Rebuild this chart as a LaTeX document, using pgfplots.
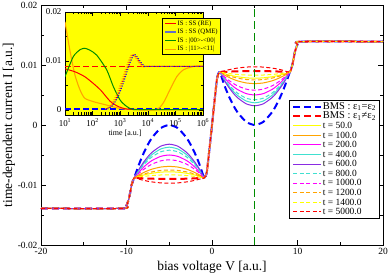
\documentclass[border=0pt]{standalone}
\usepackage{pgfplots}
\pgfplotsset{compat=1.18}
\usepackage{pgfplotstable}
\usepackage{fontspec}
\setmainfont{Liberation Serif}
\usetikzlibrary{calc}
\definecolor{cOrange}{RGB}{255,165,0}
\definecolor{cYellow}{RGB}{255,255,0}
\definecolor{cMag}{RGB}{255,0,255}
\definecolor{cCyan}{RGB}{64,224,208}
\definecolor{cPurple}{RGB}{138,43,226}
\definecolor{cGreen}{RGB}{0,140,0}
\definecolor{cBG}{RGB}{255,255,0}
\definecolor{cQME}{RGB}{100,110,200}
\definecolor{cIO}{RGB}{255,165,0}

\pgfplotstableread{
V bA bB t50 t100 t200 t400 t600 t800 t1000 t1200 t1400 t5000
-20 -0.0139 -0.0139 -0.0139 -0.0139 -0.0139 -0.0139 -0.0139 -0.0139 -0.0139 -0.0139 -0.0139 -0.0139
-10.4 -0.0139 -0.0139 -0.0139 -0.0139 -0.0139 -0.0139 -0.0139 -0.0139 -0.0139 -0.0139 -0.0139 -0.0139
-10.0 -0.0134 -0.0134 -0.0134 -0.0134 -0.0134 -0.0134 -0.0134 -0.0134 -0.0134 -0.0134 -0.0134 -0.0134
-9.7 -0.0122 -0.0122 -0.0122 -0.0122 -0.0122 -0.0122 -0.0122 -0.0122 -0.0122 -0.0122 -0.0122 -0.0122
-9.4 -0.0100 -0.0100 -0.0100 -0.0100 -0.0100 -0.0100 -0.0100 -0.0100 -0.0100 -0.0100 -0.0100 -0.0100
-9.1 -0.0088 -0.0088 -0.0088 -0.0088 -0.0088 -0.0088 -0.0088 -0.0088 -0.0088 -0.0088 -0.0088 -0.0088
-8.5 -0.00642 -0.00885 -0.00853 -0.00829 -0.00777 -0.00742 -0.00728 -0.00755 -0.00799 -0.00845 -0.00866 -0.00904
-8.0 -0.00471 -0.00889 -0.00834 -0.00792 -0.00703 -0.00643 -0.00620 -0.00666 -0.00741 -0.00820 -0.00857 -0.00922
-7.5 -0.00327 -0.00893 -0.00817 -0.00761 -0.00641 -0.00560 -0.00528 -0.00591 -0.00692 -0.00798 -0.00849 -0.00937
-7.0 -0.00209 -0.00895 -0.00804 -0.00735 -0.00590 -0.00491 -0.00453 -0.00529 -0.00651 -0.00781 -0.00842 -0.00949
-6.0 -0.00052 -0.00899 -0.00786 -0.00701 -0.00523 -0.00400 -0.00353 -0.00447 -0.00598 -0.00758 -0.00833 -0.00965
-5.0 0.00000 -0.00900 -0.00780 -0.00690 -0.00500 -0.00370 -0.00320 -0.00420 -0.00580 -0.00750 -0.00830 -0.00970
-4.0 -0.00052 -0.00899 -0.00786 -0.00701 -0.00523 -0.00400 -0.00353 -0.00447 -0.00598 -0.00758 -0.00833 -0.00965
-3.0 -0.00209 -0.00895 -0.00804 -0.00735 -0.00590 -0.00491 -0.00453 -0.00529 -0.00651 -0.00781 -0.00842 -0.00949
-2.5 -0.00327 -0.00893 -0.00817 -0.00761 -0.00641 -0.00560 -0.00528 -0.00591 -0.00692 -0.00798 -0.00849 -0.00937
-2.0 -0.00471 -0.00889 -0.00834 -0.00792 -0.00703 -0.00643 -0.00620 -0.00666 -0.00741 -0.00820 -0.00857 -0.00922
-1.5 -0.00642 -0.00885 -0.00853 -0.00829 -0.00777 -0.00742 -0.00728 -0.00755 -0.00799 -0.00845 -0.00866 -0.00904
-0.9 -0.0088 -0.0088 -0.0088 -0.0088 -0.0088 -0.0088 -0.0088 -0.0088 -0.0088 -0.0088 -0.0088 -0.0088
-0.6 -0.0078 -0.0078 -0.0078 -0.0078 -0.0078 -0.0078 -0.0078 -0.0078 -0.0078 -0.0078 -0.0078 -0.0078
-0.3 -0.0040 -0.0040 -0.0040 -0.0040 -0.0040 -0.0040 -0.0040 -0.0040 -0.0040 -0.0040 -0.0040 -0.0040
0.0 0 0 0 0 0 0 0 0 0 0 0 0
0.3 0.0040 0.0040 0.0040 0.0040 0.0040 0.0040 0.0040 0.0040 0.0040 0.0040 0.0040 0.0040
0.6 0.0078 0.0078 0.0078 0.0078 0.0078 0.0078 0.0078 0.0078 0.0078 0.0078 0.0078 0.0078
0.9 0.0088 0.0088 0.0088 0.0088 0.0088 0.0088 0.0088 0.0088 0.0088 0.0088 0.0088 0.0088
1.5 0.00642 0.00885 0.00853 0.00829 0.00777 0.00742 0.00728 0.00755 0.00799 0.00845 0.00866 0.00904
2.0 0.00471 0.00889 0.00834 0.00792 0.00703 0.00643 0.00620 0.00666 0.00741 0.00820 0.00857 0.00922
2.5 0.00327 0.00893 0.00817 0.00761 0.00641 0.00560 0.00528 0.00591 0.00692 0.00798 0.00849 0.00937
3.0 0.00209 0.00895 0.00804 0.00735 0.00590 0.00491 0.00453 0.00529 0.00651 0.00781 0.00842 0.00949
4.0 0.00052 0.00899 0.00786 0.00701 0.00523 0.00400 0.00353 0.00447 0.00598 0.00758 0.00833 0.00965
5.0 0.00000 0.00900 0.00780 0.00690 0.00500 0.00370 0.00320 0.00420 0.00580 0.00750 0.00830 0.00970
6.0 0.00052 0.00899 0.00786 0.00701 0.00523 0.00400 0.00353 0.00447 0.00598 0.00758 0.00833 0.00965
7.0 0.00209 0.00895 0.00804 0.00735 0.00590 0.00491 0.00453 0.00529 0.00651 0.00781 0.00842 0.00949
7.5 0.00327 0.00893 0.00817 0.00761 0.00641 0.00560 0.00528 0.00591 0.00692 0.00798 0.00849 0.00937
8.0 0.00471 0.00889 0.00834 0.00792 0.00703 0.00643 0.00620 0.00666 0.00741 0.00820 0.00857 0.00922
8.5 0.00642 0.00885 0.00853 0.00829 0.00777 0.00742 0.00728 0.00755 0.00799 0.00845 0.00866 0.00904
9.1 0.0088 0.0088 0.0088 0.0088 0.0088 0.0088 0.0088 0.0088 0.0088 0.0088 0.0088 0.0088
9.4 0.0100 0.0100 0.0100 0.0100 0.0100 0.0100 0.0100 0.0100 0.0100 0.0100 0.0100 0.0100
9.7 0.0122 0.0122 0.0122 0.0122 0.0122 0.0122 0.0122 0.0122 0.0122 0.0122 0.0122 0.0122
10.0 0.0134 0.0134 0.0134 0.0134 0.0134 0.0134 0.0134 0.0134 0.0134 0.0134 0.0134 0.0134
10.4 0.0139 0.0139 0.0139 0.0139 0.0139 0.0139 0.0139 0.0139 0.0139 0.0139 0.0139 0.0139
20 0.0139 0.0139 0.0139 0.0139 0.0139 0.0139 0.0139 0.0139 0.0139 0.0139 0.0139 0.0139
}\curr

\newcommand{\LS}{\rule[-2.2pt]{0pt}{9.2pt}}
\newcommand{\LSB}{\rule[-8.6pt]{0pt}{15.6pt}}

\begin{document}
\begin{tikzpicture}
\begin{axis}[name=main, scale only axis, width=342bp, height=240bp,
  xmin=-20, xmax=20, ymin=-0.02, ymax=0.02,
  scaled x ticks=false, scaled y ticks=false,
  xtick={-20,-10,0,10,20}, xticklabels={-20,-10,0,10,20},
  ytick={-0.02,-0.01,0,0.01,0.02}, yticklabels={-0.02,-0.01,0,0.01,0.02},
  minor xtick={-15,-5,5,15}, minor ytick={-0.015,-0.005,0.005,0.015},
  tick align=inside, major tick length=5bp, minor tick length=3bp,
  axis line style={line width=0.9bp}, tick style={line width=0.7bp, black},
  ticklabel style={font=\fontsize{9.5}{11}\selectfont},
  xlabel={bias voltage V [a.u.]}, ylabel={time-dependent current I [a.u.]},
  label style={font=\fontsize{13.5}{15}\selectfont},
  xlabel style={yshift=1bp},
  ylabel shift=-4bp,
  legend style={at={(0.991,0.604)}, anchor=north east, draw=black, line width=0.6bp,
    font=\fontsize{9.5}{10}\selectfont, nodes={inner sep=0.55pt}, row sep=0pt,
    inner xsep=3bp, inner ysep=1.5bp},
  legend cell align=left,
  legend image code/.code={\draw[#1] (0bp,0bp) -- (28bp,0bp);},
  every axis plot/.append style={line width=1bp},
  clip=true,
]
\addplot[blue, line width=2bp, dash pattern=on 7bp off 4bp, smooth, tension=0.4] table[x=V,y=bA]{\curr};
\addlegendentry{\LS{\fontsize{10.5}{11}\selectfont BMS : ε\textsubscript{1}=ε\textsubscript{2}}}
\addplot[red, line width=2bp, dash pattern=on 7bp off 4bp, smooth, tension=0.4] table[x=V,y=bB]{\curr};
\addlegendentry{\LSB{\fontsize{10.5}{11}\selectfont BMS : ε\textsubscript{1}≠ε\textsubscript{2}}}
\addplot[cYellow, smooth, tension=0.4] table[x=V,y=t50]{\curr};
\addlegendentry{\LS t = 50.0}
\addplot[cOrange, smooth, tension=0.4] table[x=V,y=t100]{\curr};
\addlegendentry{\LS t = 100.0}
\addplot[cMag, smooth, tension=0.4] table[x=V,y=t200]{\curr};
\addlegendentry{\LS t = 200.0}
\addplot[cCyan, smooth, tension=0.4] table[x=V,y=t400]{\curr};
\addlegendentry{\LS t = 400.0}
\addplot[cPurple, smooth, tension=0.4] table[x=V,y=t600]{\curr};
\addlegendentry{\LS t = 600.0}
\addplot[cCyan, dash pattern=on 4bp off 2.5bp, smooth, tension=0.4] table[x=V,y=t800]{\curr};
\addlegendentry{\LS t = 800.0}
\addplot[cMag, dash pattern=on 4bp off 2.5bp, smooth, tension=0.4] table[x=V,y=t1000]{\curr};
\addlegendentry{\LS t = 1000.0}
\addplot[cOrange, dash pattern=on 4bp off 2.5bp, smooth, tension=0.4] table[x=V,y=t1200]{\curr};
\addlegendentry{\LS t = 1200.0}
\addplot[cYellow, dash pattern=on 4bp off 2.5bp, smooth, tension=0.4] table[x=V,y=t1400]{\curr};
\addlegendentry{\LS t = 1400.0}
\addplot[red, dash pattern=on 4bp off 2.5bp, smooth, tension=0.4] table[x=V,y=t5000]{\curr};
\addlegendentry{\LS t = 5000.0}
\addplot[cGreen, line width=1.4bp, dash pattern=on 8bp off 4bp, forget plot] coordinates {(5,-0.02) (5,0.02)};
\end{axis}

\begin{axis}[at={($(main.north west)+(24bp,-7bp)$)}, anchor=north west,
  scale only axis, width=138bp, height=103bp,
  xmode=log, xmin=10, xmax=1000000, ymin=-0.00102, ymax=0.02,
  scaled y ticks=false,
  axis background/.style={fill=cBG},
  xtick={10,100,1000,10000,100000,1000000},
  xticklabels={10\textsuperscript{1},10\textsuperscript{2},10\textsuperscript{3},10\textsuperscript{4},10\textsuperscript{5},10\textsuperscript{6}},
  ytick={0,0.01,0.02}, yticklabels={0,0.01,0.02}, minor ytick={0.005,0.015},
  tick align=inside, major tick length=4bp, minor tick length=2.5bp,
  axis line style={line width=0.8bp}, tick style={line width=0.6bp, black},
  ticklabel style={font=\fontsize{9}{10}\selectfont},
  xlabel={time [a.u.]}, xlabel style={font=\fontsize{8}{9}\selectfont, yshift=3bp, xshift=-9bp},
  legend style={at={(0.703,0.942)}, anchor=north west, draw=black, fill=cBG, line width=0.6bp,
    font=\fontsize{6.8}{7}\selectfont, nodes={inner sep=0.8pt, text height=5.2pt, text depth=1.8pt},
    inner xsep=2bp, inner ysep=1bp},
  legend cell align=left,
  legend image code/.code={\draw[#1] (0bp,0bp) -- (11bp,0bp);},
]
\addlegendimage{red, line width=1bp}
\addlegendentry{IS : SS (RE)}
\addlegendimage{cQME, line width=1.5bp}
\addlegendentry{IS : SS (QME)}
\addlegendimage{cGreen, line width=1bp}
\addlegendentry{IS : |00>-<00|}
\addlegendimage{cIO, line width=1bp}
\addlegendentry{IS : |11>-<11|}

\addplot[red, line width=1.5bp, dash pattern=on 6bp off 3bp, forget plot] coordinates {(10,0.0089) (1000000,0.0089)};
\addplot[blue, line width=1.5bp, dash pattern=on 6bp off 3bp, forget plot] coordinates {(10,0.0002) (1000000,0.0002)};
\addplot[cIO, line width=1.1bp, smooth, tension=0.4, forget plot] coordinates {
 (10,0.0180) (15,0.0122) (23,0.0071) (35,0.0041) (52,0.0024) (107,0.0017) (324,0.0010) (1000,0.0003) (3000,0.0001)
 (20000,0.0001) (36000,0.0014) (63000,0.0041) (112000,0.0068) (195000,0.0082) (339000,0.0087) (589000,0.0090) (1000000,0.0090)};
\addplot[red, line width=1bp, smooth, tension=0.4, forget plot] coordinates {
 (10,0.0084) (23,0.0078) (52,0.0068) (107,0.0054) (200,0.0040) (430,0.0018) (850,0.0007) (1740,0.0002) (5000,0.0001) (1000000,0.0001)};
\addplot[cGreen, line width=1bp, smooth, tension=0.4, forget plot] coordinates {
 (10,0.0068) (20,0.0109) (35,0.0123) (52,0.0126) (80,0.0122) (141,0.0112) (324,0.0082) (562,0.0048) (1000,0.0020) (1740,0.0007) (2950,0.0001) (10000,0.0001) (1000000,0.0001)};
\addplot[cIO, line width=1bp, dash pattern=on 1bp off 1.5bp, smooth, tension=0.4, forget plot] coordinates {
 (285,0.0002) (450,0.0010) (720,0.0030) (1130,0.0060) (1800,0.0094) (2540,0.0113) (3200,0.0110) (4500,0.0098) (6370,0.0089) (9000,0.0089) (1000000,0.0089)};
\addplot[red, line width=1bp, dash pattern=on 1bp off 1.5bp, smooth, tension=0.4, forget plot] coordinates {
 (316,0.0002) (500,0.0010) (800,0.0030) (1260,0.0060) (2000,0.0094) (2820,0.0113) (3550,0.0110) (5000,0.0098) (7080,0.0089) (10000,0.0089) (1000000,0.0089)};
\addplot[blue, line width=1bp, dash pattern=on 1bp off 1.5bp, smooth, tension=0.4, forget plot] coordinates {
 (348,0.0002) (550,0.0010) (880,0.0030) (1390,0.0060) (2200,0.0094) (3100,0.0113) (3900,0.0110) (5500,0.0098) (7790,0.0089) (11000,0.0089) (1000000,0.0089)};
\end{axis}
\pgfresetboundingbox
\path ($(main.south west)+(-41bp,-28bp)$) rectangle ($(main.north east)+(7bp,5bp)$);
\end{tikzpicture}
\end{document}
